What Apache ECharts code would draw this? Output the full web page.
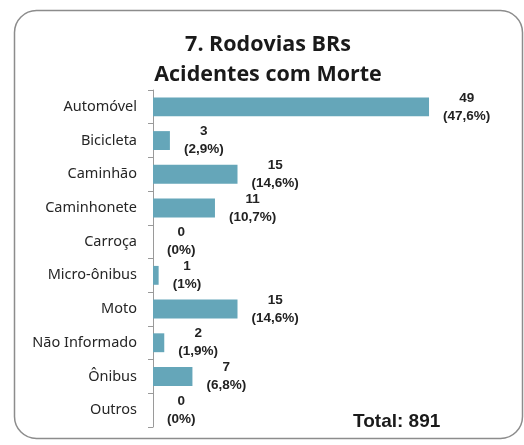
<!DOCTYPE html>
<html>
<head>
<meta charset="utf-8">
<script src="https://cdn.jsdelivr.net/npm/echarts@6/dist/echarts.min.js"></script>
<style>
  html, body { margin: 0; padding: 0; background: #fff; }
  #chart { width: 524px; height: 445px; }
</style>
</head>
<body>
<div id="chart"></div>
<script>
// Vehicle types involved in fatal accidents on federal highways
const categories = ['Automóvel', 'Bicicleta', 'Caminhão', 'Caminhonete', 'Carroça',
  'Micro-ônibus', 'Moto', 'Não Informado', 'Ônibus', 'Outros'];
const counts = [49, 3, 15, 11, 0, 1, 15, 2, 7, 0];
const shares = ['47,6%', '2,9%', '14,6%', '10,7%', '0%', '1%', '14,6%', '1,9%', '6,8%', '0%'];
const titleLines = ['7. Rodovias BRs', 'Acidentes com Morte'];
const totalText = 'Total: 891';

const titleFont = 'bold 21.5px "Open Sans"';

const chart = echarts.init(document.getElementById('chart'));
chart.setOption({
  animation: false,
  backgroundColor: '#fff',
  graphic: [
    {
      type: 'rect',
      shape: { x: 14.5, y: 10.5, width: 508, height: 428, r: 22 },
      style: { fill: 'none', stroke: '#8c8c8c', lineWidth: 1.5 }
    },
    {
      type: 'text',
      x: 268,
      y: 45,
      style: { text: titleLines[0], font: titleFont, fill: '#1a1a1a', align: 'center', verticalAlign: 'middle' }
    },
    {
      type: 'text',
      x: 268,
      y: 75,
      style: { text: titleLines[1], font: titleFont, fill: '#1a1a1a', align: 'center', verticalAlign: 'middle' }
    },
    {
      type: 'text',
      x: 353,
      y: 422,
      style: {
        text: totalText,
        font: 'bold 19px "Liberation Sans"',
        fill: '#1a1a1a',
        verticalAlign: 'middle'
      }
    }
  ],
  grid: { left: 153, top: 90, width: 338, height: 337, containLabel: false },
  xAxis: {
    type: 'value',
    min: 0,
    max: 60,
    show: false
  },
  yAxis: {
    type: 'category',
    inverse: true,
    data: categories,
    axisLine: { show: true, lineStyle: { color: '#9a9a9a', width: 1 } },
    axisTick: { show: true, length: 5, alignWithLabel: false, lineStyle: { color: '#9a9a9a' } },
    axisLabel: {
      margin: 16,
      fontFamily: '"Noto Sans"',
      fontSize: 14.5,
      color: '#262626'
    }
  },
  series: [{
    type: 'bar',
    data: counts,
    barCategoryGap: '44%',
    itemStyle: { color: '#65a6b9' },
    label: {
      show: true,
      position: 'right',
      distance: 14,
      formatter: (p) => '{v|' + p.value + '}\n{v|(' + shares[p.dataIndex] + ')}',
      rich: {
        v: {
          fontFamily: '"Liberation Sans"',
          fontWeight: 'bold',
          fontSize: 13.5,
          lineHeight: 18,
          align: 'center',
          color: '#222'
        }
      }
    }
  }]
});
</script>
</body>
</html>
